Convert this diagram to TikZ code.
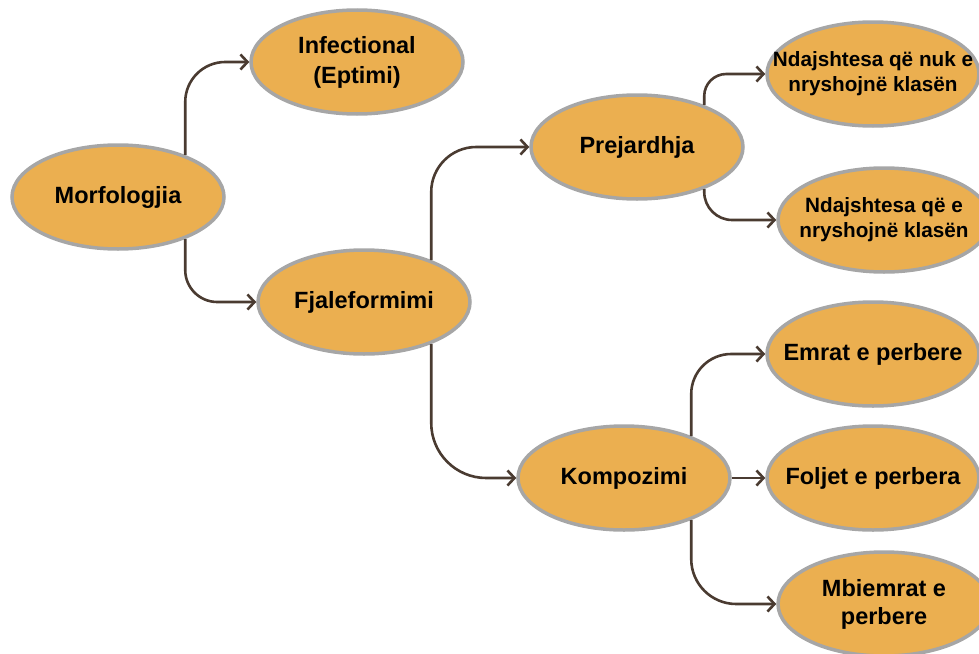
\documentclass[tikz,border=0pt]{standalone}
\usepackage{fontspec}
\setmainfont{Liberation Sans}
\usetikzlibrary{arrows.meta,shapes.geometric}
\definecolor{nodefill}{HTML}{EBAF50}
\definecolor{nodeline}{HTML}{A6A6A6}
\definecolor{arrowc}{HTML}{4A3B31}
\begin{document}
\begin{tikzpicture}[x=1pt,y=-1pt,
  bub/.style={ellipse, draw=nodeline, line width=3.5pt, fill=nodefill,
    minimum width=212pt, minimum height=104pt, inner xsep=-45pt, inner ysep=0pt,
    align=center, font=\fontsize{23.5}{30}\selectfont\bfseries},
  smalltext/.style={font=\fontsize{20.7}{25}\selectfont\bfseries},
  conn/.style={draw=arrowc, line width=2.6pt,
    -{Straight Barb[length=7pt,width=15pt]}}]
\useasboundingbox (0,0) rectangle (979,653);
\clip (0,0) rectangle (979,653);

\node[bub] (morf) at (118,197) {Morfologjia};
\node[bub] (inf)  at (357,62)  {Infectional\\(Eptimi)};
\node[bub] (fjal) at (364,302) {Fjaleformimi};
\node[bub] (prej) at (637,147) {Prejardhja};
\node[bub,smalltext] (nuk) at (873,74) {Ndajshtesa që nuk e\\nryshojnë klasën};
\node[bub,smalltext] (ndr) at (884,220) {Ndajshtesa që e\\nryshojnë klasën};
\node[bub] (komp) at (624,478) {Kompozimi};
\node[bub] (emr)  at (873,354) {Emrat e perbere};
\node[bub] (folj) at (873,478) {Foljet e perbera};
\node[bub,font=\fontsize{23.5}{28}\selectfont\bfseries] (mbi) at (884,604) {Mbiemrat e\\perbere};

\draw[conn, rounded corners=40pt] (morf.32) |- (inf.west);
\draw[conn, rounded corners=32pt] (morf.-32) |- (fjal.west);
\draw[conn, rounded corners=45pt] (fjal.32) |- (prej.west);
\draw[conn, rounded corners=55pt] (fjal.-32) |- (komp.west);
\draw[conn, rounded corners=22pt] (prej.32) |- (nuk.west);
\draw[conn, rounded corners=28pt] (prej.-32) |- (ndr.west);
\draw[conn, rounded corners=40pt] (komp.32) |- (emr.west);
\draw[conn] (komp.east) -- (folj.west);
\draw[conn, rounded corners=45pt] (komp.-32) |- (mbi.west);
\end{tikzpicture}
\end{document}
